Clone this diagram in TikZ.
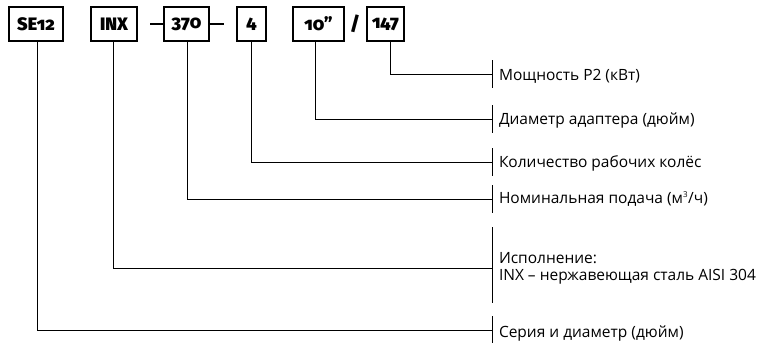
\documentclass[tikz,border=0pt]{standalone}
\usepackage{fontspec}
\setmainfont{Open Sans}
\newfontfamily\boxfont[Numbers=OldStyle,BoldFont={Fira Sans Black}]{Fira Sans}
\begin{document}
\begin{tikzpicture}[x=1pt,y=-1pt,line width=1pt,
  codebox/.style={draw,line width=1.2pt,minimum height=34pt,inner sep=0pt,font=\boxfont\bfseries\fontsize{18}{18}\selectfont},
  lbl/.style={anchor=west,inner sep=0pt,font=\fontsize{15.5}{17}\selectfont,align=left},
  bar/.style={line width=1pt},
  dashln/.style={line width=1.7pt},
  link/.style={line width=1pt}]
\useasboundingbox (0,0) rectangle (759,343);
% code boxes
\node[codebox,minimum width=54pt] (b1) at (36,24) {SE12};
\node[codebox,minimum width=46pt] (b2) at (114,24) {INX};
\node[codebox,minimum width=45pt] (b3) at (186.5,24) {370};
\node[codebox,minimum width=29pt] (b4) at (251.5,24) {4};
\node[codebox,minimum width=51pt] (b5) at (318.5,24) {10”};
\node[codebox,minimum width=37pt] (b6) at (385.5,24) {147};
\node[font=\boxfont\bfseries\fontsize{19}{19}\selectfont,inner sep=0pt] (sl) at (355,24) {/};
\coordinate (d1) at (150,24);
\coordinate (d2) at (224,24);
\draw[dashln] (d1) -- (b3.west);
\draw[dashln] (b3.east) -- (d2);
% bars
\coordinate (k1) at (492,74);
\coordinate (k2) at (492,119);
\coordinate (k3) at (492,162);
\coordinate (k4) at (492,199);
\coordinate (k5) at (492,268);
\coordinate (k6) at (492,330);
\draw[bar] (492,60) -- (492,88);
\draw[bar] (492,105) -- (492,133);
\draw[bar] (492,148) -- (492,176);
\draw[bar] (492,185) -- (492,213);
\draw[bar] (492,227) -- (492,303);
\draw[bar] (492,316) -- (492,343);
% connectors
\draw[link] ([xshift=4.5pt]b6.south) |- (k1);
\draw[link] ([xshift=-3.5pt]b5.south) |- (k2);
\draw[link] ([xshift=-0.5pt]b4.south) |- (k3);
\draw[link] ([xshift=0.5pt]b3.south) |- (k4);
\draw[link] ([xshift=-1pt]b2.south) |- (k5);
\draw[link] ([xshift=1pt]b1.south) |- (k6);
% labels
\node[lbl] (t1) at (498.5,76) {Мощность P2 (кВт)};
\node[lbl] (t2) at (498.5,121) {Диаметр адаптера (дюйм)};
\node[lbl] (t3) at (498.5,163) {Количество рабочих колёс};
\node[lbl] (t4) at (498.5,199) {Номинальная подача (м\textsuperscript{\footnotesize 3}/ч)};
\node[lbl] (t5) at (498.5,268) {Исполнение:\\INX – нержавеющая сталь AISI 304};
\node[lbl] (t6) at (498.5,333) {Серия и диаметр (дюйм)};
\end{tikzpicture}
\end{document}
